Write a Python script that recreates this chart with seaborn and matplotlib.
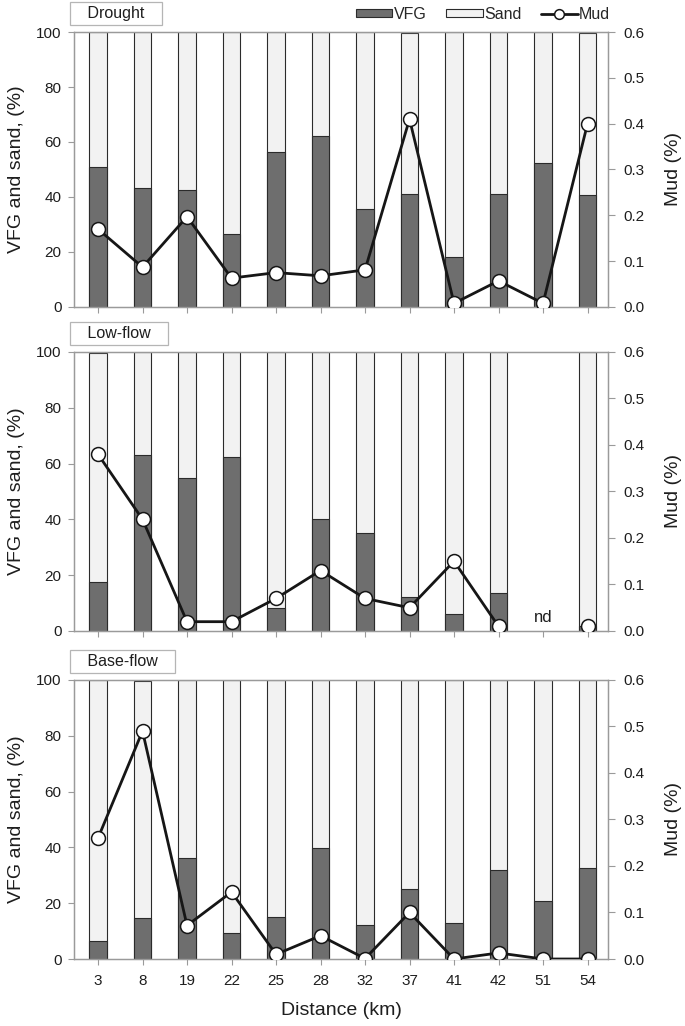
import numpy as np
import matplotlib
matplotlib.use("Agg")
import matplotlib.pyplot as plt
import seaborn as sns
from matplotlib.patches import Patch
from matplotlib.lines import Line2D

# distances along the river (km), used as categories
distance = ["3", "8", "19", "22", "25", "28", "32", "37", "41", "42", "51", "54"]
panels = ["Drought", "Low-flow", "Base-flow"]

# very fine gravel (VFG) and sand fractions (%)
drought_vfg = [51, 43.3, 42.5, 26.5, 56.5, 62, 35.7, 41, 18, 41, 52.5, 40.8]
drought_sand = [49, 56.7, 57.5, 73.5, 43.5, 38, 64.3, 58.5, 82, 59, 47.5, 58.7]
lowflow_vfg = [17.5, 63, 54.7, 62.2, 8.2, 40.3, 35, 12.2, 6, 13.5, np.nan, 1.8]
lowflow_sand = [82, 36.8, 45.3, 37.8, 91.8, 59.7, 65, 87.8, 94, 86.5, np.nan, 98.2]
baseflow_vfg = [6.3, 14.7, 36.3, 9.3, 15.1, 39.8, 12.2, 25.2, 12.8, 32, 20.9, 32.5]
baseflow_sand = [93.7, 84.8, 63.7, 90.7, 84.9, 60.2, 87.8, 74.8, 87.2, 68, 79.1, 67.5]

# mud fraction (%), right axis
drought_mud = [0.17, 0.087, 0.197, 0.063, 0.075, 0.068, 0.081, 0.41, 0.008, 0.057, 0.008, 0.40]
lowflow_mud = [0.38, 0.24, 0.02, 0.02, 0.07, 0.13, 0.07, 0.05, 0.15, 0.01, np.nan, 0.01]
baseflow_mud = [0.26, 0.49, 0.072, 0.144, 0.01, 0.05, 0.001, 0.10, 0.0, 0.013, 0.0, 0.0]

vfg_all = [drought_vfg, lowflow_vfg, baseflow_vfg]
sand_all = [drought_sand, lowflow_sand, baseflow_sand]
mud_all = [drought_mud, lowflow_mud, baseflow_mud]

VFG_COL = "#6e6e6e"
SAND_COL = "#f2f2f2"
EDGE = "#2b2b2b"
SPINE = "#9a9a9a"
TXT = "#1e1e1e"

sns.set_style("ticks")
plt.rcParams["font.family"] = ["Liberation Sans", "DejaVu Sans"]
plt.rcParams["axes.edgecolor"] = SPINE
plt.rcParams["xtick.color"] = SPINE
plt.rcParams["ytick.color"] = SPINE
plt.rcParams["xtick.labelcolor"] = TXT
plt.rcParams["ytick.labelcolor"] = TXT

fig = plt.figure(figsize=(6.85, 10.26), dpi=100)

# axes boxes [left, bottom, width, height] in figure fraction
boxes = [[0.108, 0.7008, 0.7796, 0.268],
         [0.108, 0.3850, 0.7796, 0.272],
         [0.108, 0.0653, 0.7796, 0.272]]

for i, name in enumerate(panels):
    ax = fig.add_axes(boxes[i])
    vfg = np.array(vfg_all[i], dtype=float)
    sand = np.array(sand_all[i], dtype=float)
    total = vfg + sand

    # stacked bars: total (sand colour) underneath, VFG on top of it
    sns.barplot(x=distance, y=total, order=distance, color=SAND_COL, saturation=1,
                edgecolor=EDGE, linewidth=0.8, width=0.4, ax=ax)
    sns.barplot(x=distance, y=vfg, order=distance, color=VFG_COL, saturation=1,
                edgecolor=EDGE, linewidth=0.8, width=0.4, ax=ax)

    ax.set_xlim(-0.54, 11.46)
    ax.set_ylim(0, 100)
    ax.set_yticks(range(0, 101, 20))
    ax.set_ylabel("VFG and sand, (%)", fontsize=14, color=TXT, labelpad=8)
    ax.tick_params(axis="both", direction="out", length=4, width=0.8, labelsize=11)
    ax.tick_params(axis="y", pad=5)
    for sp in ax.spines.values():
        sp.set_visible(True)
        sp.set_color(SPINE)
        sp.set_linewidth(0.9)
    if i < 2:
        ax.set_xticklabels([])
        ax.set_xlabel("")
    else:
        ax.set_xlabel("Distance (km)", fontsize=14, color=TXT, labelpad=10)
        ax.tick_params(axis="x", pad=7)

    ax2 = ax.twinx()
    ax2.plot(np.arange(len(distance)), mud_all[i], color="#161616", lw=2,
             marker="o", ms=10, mfc="white", mec="#161616", mew=1.1, zorder=5)
    ax2.set_ylim(0, 0.6)
    ax2.set_yticks(np.arange(0, 0.61, 0.1))
    ax2.set_yticklabels([f"{v:.1f}" for v in np.arange(0, 0.61, 0.1)])
    ax2.set_ylabel("Mud (%)", fontsize=14, color=TXT, labelpad=15)
    ax2.tick_params(axis="y", direction="out", length=5, width=0.8, labelsize=11, pad=6)
    for sp in ax2.spines.values():
        sp.set_color(SPINE)
        sp.set_linewidth(0.9)

    if i == 1:
        ax.text(10, 4.7, "nd", ha="center", va="center", fontsize=12, color=TXT)

    ax_h = boxes[i][3] * 1026
    ax.text(0.0, 1 + 18.5 / ax_h, "   " + name + "   ", transform=ax.transAxes,
            ha="left", va="center", fontsize=11.5, color=TXT,
            bbox=dict(boxstyle="square,pad=0.25", fc="white", ec="#b5b5b5", lw=0.9))

handles = [Patch(facecolor=VFG_COL, edgecolor=EDGE, linewidth=0.8),
           Patch(facecolor=SAND_COL, edgecolor=EDGE, linewidth=0.8),
           Line2D([], [], color="#161616", lw=2, marker="o", ms=7, mfc="white",
                  mec="#161616", mew=1.1)]
fig.legend(handles, ["VFG", "Sand", "Mud"], loc="center", bbox_to_anchor=(0.705, 0.986),
           ncol=3, frameon=False, fontsize=11.5, handlelength=2.3, handleheight=0.45,
           handletextpad=0.1, columnspacing=1.2)

fig.savefig("out.png", dpi=100)
